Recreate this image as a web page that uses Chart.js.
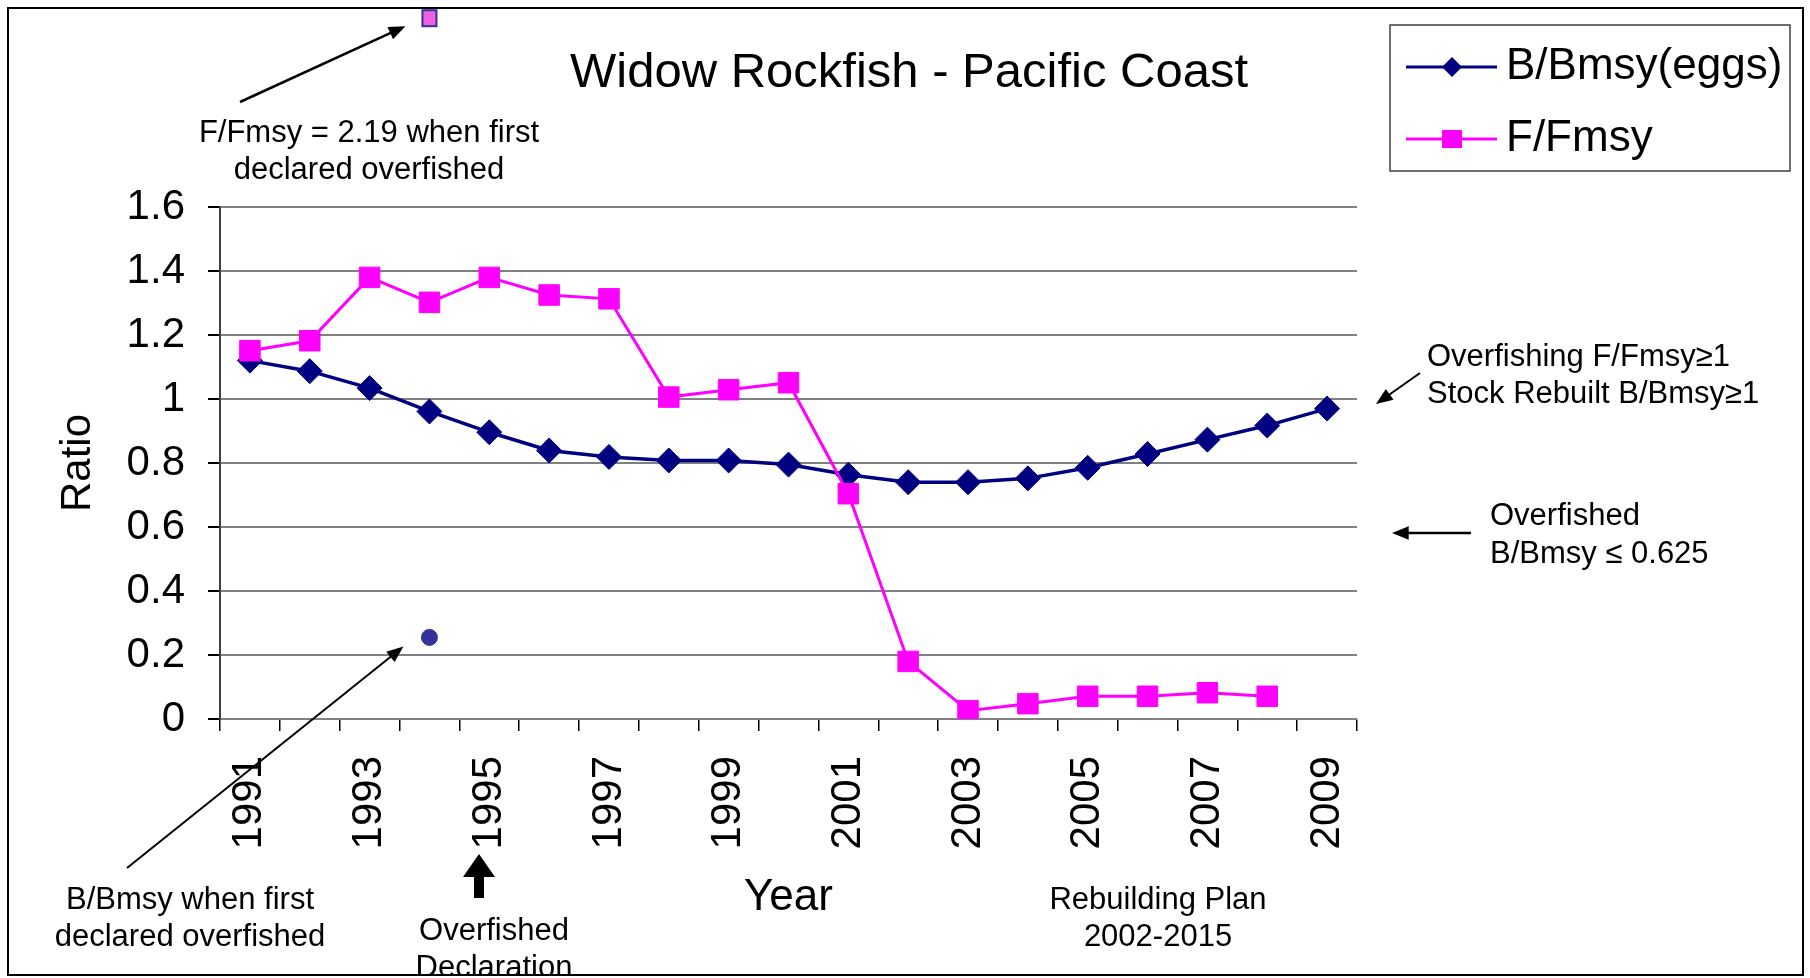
<!DOCTYPE html>
<html>
<head>
<meta charset="utf-8">
<title>Widow Rockfish - Pacific Coast</title>
<script src="https://cdn.jsdelivr.net/npm/chart.js@4.4.0/dist/chart.umd.min.js"></script>
<style>
  html, body { margin: 0; padding: 0; background: #fff; }
  #wrap { width: 1810px; height: 978px; }
</style>
</head>
<body>
<div id="wrap"><canvas id="chart" width="1810" height="978"></canvas></div>
<script>
// Stock status ratios by year
const years = ['1991', '1992', '1993', '1994', '1995', '1996', '1997', '1998', '1999', '2000',
               '2001', '2002', '2003', '2004', '2005', '2006', '2007', '2008', '2009'];
const bBmsy = [1.12, 1.087, 1.034, 0.961, 0.896, 0.839, 0.819, 0.808, 0.808, 0.795,
               0.763, 0.74, 0.74, 0.752, 0.785, 0.828, 0.873, 0.917, 0.97];
const fFmsy = [1.151, 1.182, 1.38, 1.302, 1.38, 1.325, 1.313, 1.006, 1.029, 1.051,
               0.704, 0.18, 0.026, 0.048, 0.071, 0.071, 0.082, 0.071, null];
const yTicks = [0, 0.2, 0.4, 0.6, 0.8, 1, 1.2, 1.4, 1.6];

// Status when the stock was first declared overfished
const declaredYear = '1994';
const fDeclared = 2.19;
const bDeclared = 0.255;

const FONT = "'Liberation Sans', Arial, sans-serif";
const NAVY = '#000080';
const MAGENTA = '#ff00ff';

const onlyAt = (year, value) => years.map(y => (y === year ? value : null));

function arrow(ctx, x1, y1, x2, y2, head, width) {
    const a = Math.atan2(y2 - y1, x2 - x1);
    ctx.save();
    ctx.strokeStyle = '#000';
    ctx.fillStyle = '#000';
    ctx.lineWidth = width;
    ctx.beginPath();
    ctx.moveTo(x1, y1);
    ctx.lineTo(x2 - Math.cos(a) * head * 0.8, y2 - Math.sin(a) * head * 0.8);
    ctx.stroke();
    ctx.beginPath();
    ctx.moveTo(x2, y2);
    ctx.lineTo(x2 - head * Math.cos(a - 0.38), y2 - head * Math.sin(a - 0.38));
    ctx.lineTo(x2 - head * Math.cos(a + 0.38), y2 - head * Math.sin(a + 0.38));
    ctx.closePath();
    ctx.fill();
    ctx.restore();
}

function textLines(ctx, lines, x, y, gap, align) {
    ctx.textAlign = align;
    lines.forEach((t, i) => ctx.fillText(t, x, y + i * gap));
}

// Title, legend box, notes and arrows
const notesPlugin = {
    id: 'notes',
    afterDraw(chart) {
        const ctx = chart.ctx;
        const xs = chart.scales.x;
        const ys = chart.scales.y;
        ctx.save();
        ctx.fillStyle = '#000';
        ctx.textBaseline = 'middle';

        ctx.font = '49px ' + FONT;
        ctx.textAlign = 'center';
        ctx.fillText('Widow Rockfish - Pacific Coast', 909, 73);

        // legend
        ctx.strokeStyle = '#404040';
        ctx.lineWidth = 1.5;
        ctx.strokeRect(1390, 25, 400, 146);
        const rows = [
            { ds: chart.data.datasets[0], y: 67, shape: 'diamond' },
            { ds: chart.data.datasets[1], y: 139, shape: 'square' }
        ];
        rows.forEach(r => {
            ctx.strokeStyle = r.ds.borderColor;
            ctx.lineWidth = 3;
            ctx.beginPath();
            ctx.moveTo(1406, r.y);
            ctx.lineTo(1497, r.y);
            ctx.stroke();
            ctx.fillStyle = r.ds.backgroundColor;
            ctx.beginPath();
            if (r.shape === 'diamond') {
                ctx.moveTo(1452, r.y - 10);
                ctx.lineTo(1462, r.y);
                ctx.lineTo(1452, r.y + 10);
                ctx.lineTo(1442, r.y);
            } else {
                ctx.rect(1442, r.y - 9, 20, 18);
            }
            ctx.fill();
            ctx.fillStyle = '#000';
            ctx.font = '44px ' + FONT;
            ctx.textAlign = 'left';
            ctx.fillText(r.ds.label, 1506, r.y);
        });

        // F/Fmsy at declaration sits above the plotted range, so it is placed here
        const fx = xs.getPixelForValue(years.indexOf(declaredYear));
        const fy = ys.getPixelForValue(fDeclared);
        ctx.fillStyle = '#f060e0';
        ctx.strokeStyle = '#333399';
        ctx.lineWidth = 2;
        ctx.fillRect(fx - 7, fy - 8, 14, 16);
        ctx.strokeRect(fx - 7, fy - 8, 14, 16);

        const bPt = chart.getDatasetMeta(2).data[years.indexOf(declaredYear)];

        ctx.font = '31px ' + FONT;
        ctx.fillStyle = '#000';
        textLines(ctx, ['F/Fmsy = 2.19 when first', 'declared overfished'], 369, 133, 37, 'center');
        arrow(ctx, 240, 102, fx - 24, fy + 8, 18, 2.5);

        textLines(ctx, ['B/Bmsy when first', 'declared overfished'], 190, 900, 37, 'center');
        arrow(ctx, 127, 868, bPt.x - 26, bPt.y + 9, 18, 2);

        textLines(ctx, ['Rebuilding Plan', '2002-2015'], 1158, 900, 37, 'center');

        textLines(ctx, ['Overfishing F/Fmsy\u22651', 'Stock Rebuilt B/Bmsy\u22651'], 1427, 357, 37, 'left');
        arrow(ctx, 1420, 373, 1376, 404, 18, 2);

        textLines(ctx, ['Overfished', 'B/Bmsy \u2264 0.625'], 1490, 516, 38, 'left');
        arrow(ctx, 1471, 533, 1392, 533, 18, 2.5);

        // thick arrow under 1995
        ctx.fillStyle = '#000';
        ctx.beginPath();
        ctx.moveTo(479, 854);
        ctx.lineTo(495, 877);
        ctx.lineTo(484, 877);
        ctx.lineTo(484, 898);
        ctx.lineTo(474, 898);
        ctx.lineTo(474, 877);
        ctx.lineTo(463, 877);
        ctx.closePath();
        ctx.fill();
        textLines(ctx, ['Overfished', 'Declaration'], 494, 931, 37, 'center');

        // outer frame
        ctx.fillStyle = '#fff';
        ctx.fillRect(0, 976, 1810, 2);
        ctx.strokeStyle = '#000';
        ctx.lineWidth = 2;
        ctx.strokeRect(8, 8, 1795, 967);
        ctx.restore();
    }
};

new Chart(document.getElementById('chart').getContext('2d'), {
    type: 'line',
    data: {
        labels: years,
        datasets: [
            {
                label: 'B/Bmsy(eggs)',
                data: bBmsy,
                borderColor: NAVY,
                backgroundColor: NAVY,
                borderWidth: 3.5,
                pointStyle: 'rectRot',
                pointRadius: 12.5,
                pointBorderWidth: 1,
                order: 2
            },
            {
                label: 'F/Fmsy',
                data: fFmsy,
                borderColor: MAGENTA,
                backgroundColor: MAGENTA,
                borderWidth: 3,
                pointStyle: 'rect',
                pointRadius: 14.5,
                pointBorderWidth: 1,
                order: 1
            },
            {
                label: 'B/Bmsy declared',
                data: onlyAt(declaredYear, bDeclared),
                showLine: false,
                pointStyle: 'circle',
                pointRadius: 8,
                backgroundColor: '#333399',
                borderColor: '#333399',
                order: 0
            }
        ]
    },
    options: {
        responsive: false,
        animation: false,
        layout: { padding: { left: 0, top: 207, right: 453, bottom: 0 } },
        plugins: {
            legend: { display: false },
            tooltip: { enabled: false },
            title: { display: false }
        },
        scales: {
            x: {
                offset: true,
                grid: { offset: true, drawOnChartArea: false, tickLength: 12, color: '#000', lineWidth: 1.5 },
                border: { color: '#808080', width: 2 },
                ticks: {
                    autoSkip: false,
                    maxRotation: 90,
                    minRotation: 90,
                    padding: 25,
                    color: '#000',
                    font: { family: FONT, size: 42 },
                    callback: (v, i) => (i % 2 === 0 ? years[i] : '')
                },
                title: {
                    display: true,
                    text: 'Year',
                    color: '#000',
                    font: { family: FONT, size: 44 },
                    padding: { top: 0, bottom: 54 }
                },
                afterFit: s => { s.height = 259; }
            },
            y: {
                min: 0,
                max: 1.6,
                afterBuildTicks: s => { s.ticks = yTicks.map(v => ({ value: v })); },
                grid: { color: '#808080', lineWidth: 2, tickLength: 12, tickColor: '#000' },
                border: { color: '#404040', width: 2 },
                ticks: {
                    padding: 23,
                    color: '#000',
                    font: { family: FONT, size: 42 },
                    callback: v => String(v)
                },
                title: {
                    display: true,
                    text: 'Ratio',
                    color: '#000',
                    font: { family: FONT, size: 42 },
                    padding: { top: 53, bottom: 0 }
                },
                afterFit: s => { s.width = 220; }
            }
        }
    },
    plugins: [notesPlugin]
});
</script>
</body>
</html>
